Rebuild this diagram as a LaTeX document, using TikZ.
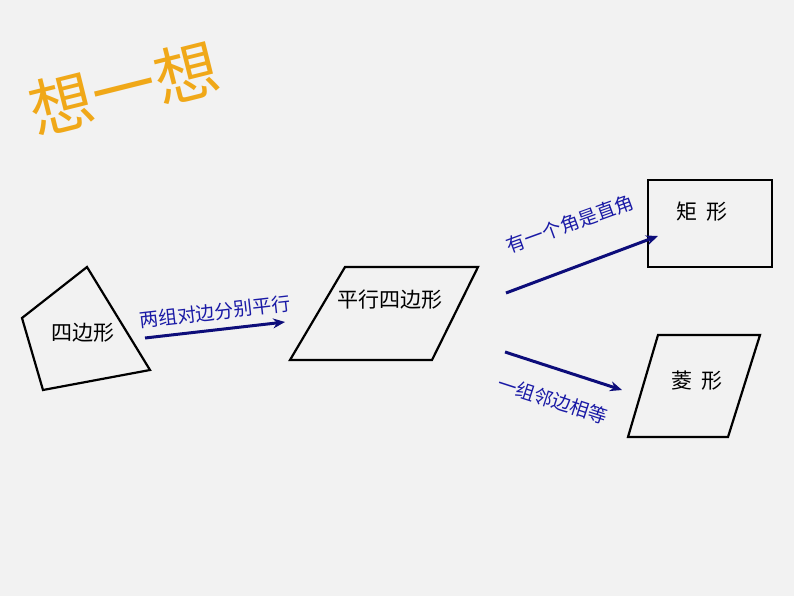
\documentclass[tikz,border=0pt]{standalone}
\usepackage{fontspec}
\setmainfont{Noto Sans CJK SC}
\usetikzlibrary{arrows.meta}
\definecolor{bg}{HTML}{F2F2F2}
\definecolor{lbl}{HTML}{1A1AA6}
\definecolor{arr}{HTML}{0D0D7A}
\definecolor{ttl}{HTML}{F0A818}
\begin{document}
\begin{tikzpicture}[x=1pt,y=-1pt,
  shp/.style={draw=black,line width=2.2pt,line join=miter},
  con/.style={draw=arr,line width=3pt,-{Stealth[length=12pt,width=10pt]}},
  lab/.style={text=lbl,font=\fontsize{19}{19}\selectfont,inner sep=0pt},
  txt/.style={font=\fontsize{21}{21}\selectfont,inner sep=0pt}]
\fill[bg] (0,0) rectangle (794,596);
\node[font=\fontsize{64}{64}\selectfont,text=ttl,rotate=14,inner sep=0pt] (title) at (124,88) {想一想};
\draw[shp] (22,318) -- (87,267) -- (150,370) -- (43,390) -- cycle;
\node[txt] (q) at (83,333) {四边形};
\draw[shp] (345,267) -- (478,267) -- (432,360) -- (290,360) -- cycle;
\node[txt] (p) at (390,300) {平行四边形};
\draw[shp] (648,180) rectangle (772,267);
\node[txt] (r) at (702,212) {矩\ \ 形};
\draw[shp] (658,335) -- (760,335) -- (728,437) -- (628,437) -- cycle;
\node[txt] (h) at (697,381) {菱\ \ 形};
\coordinate (a1) at (145,338); \coordinate (b1) at (285,322);
\coordinate (a2) at (506,293); \coordinate (b2) at (658,236);
\coordinate (a3) at (505,352); \coordinate (b3) at (622,390);
\draw[con] (a1) -- (b1);
\draw[con] (a2) -- (b2);
\draw[con] (a3) -- (b3);
\node[lab,rotate=6.5] (l1) at (215,312) {两组对边分别平行};
\node[lab,rotate=20] (l2) at (570,224) {有一个角是直角};
\node[lab,rotate=-18] (l3) at (553,400) {一组邻边相等};
\end{tikzpicture}
\end{document}
